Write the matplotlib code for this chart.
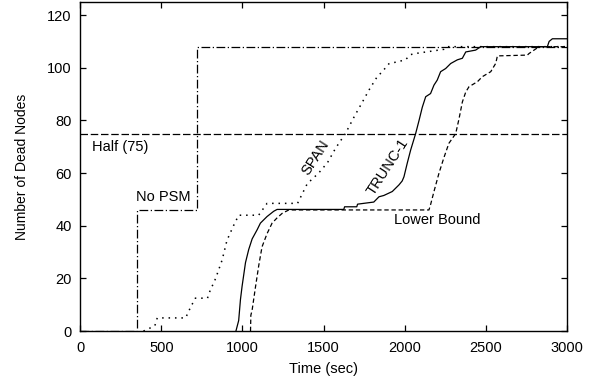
import matplotlib.pyplot as plt

plt.rcParams['font.family'] = ['Liberation Sans', 'DejaVu Sans']

# No PSM (dash-dot)
nopsm_t = [0, 350, 350, 720, 720, 3000]
nopsm_v = [0, 0, 46, 46, 108, 108]

# SPAN (dotted)
span_t = [390, 460, 475, 650, 680, 710, 785, 795, 835, 875, 905, 945, 977, 1100, 1152,
          1340, 1360, 1400, 1470, 1525, 1575, 1635, 1690, 1740, 1780, 1830, 1862, 1903,
          2005, 2037, 2078, 2243, 2260, 3000]
span_v = [0, 2, 5, 5, 9, 12.5, 12.5, 14.5, 20, 27, 34.5, 40, 44, 44, 48.5,
          48.5, 51, 56, 60, 64, 69.5, 75, 81.5, 87, 91.5, 96.5, 98.5, 101.5,
          103, 105, 105.5, 107, 108, 108]

# TRUNC-1 (solid)
trunc_t = [960, 977, 988, 998, 1019, 1039, 1060, 1091, 1111, 1152, 1193, 1214, 1625, 1630,
           1705, 1710, 1810, 1842, 1872, 1924, 1965, 1985, 1996, 2016, 2037, 2068, 2089,
           2109, 2130, 2160, 2181, 2201, 2222, 2253, 2284, 2325, 2356, 2377, 2438, 2469,
           2880, 2891, 2911, 3000]
trunc_v = [0, 4, 12, 17, 26, 31, 35, 38.5, 41, 43.5, 45.5, 46.2, 46.2, 47.2,
           47.2, 48.2, 49, 51, 51.5, 53, 55.5, 57, 58.6, 63.7, 68.7, 75, 80,
           85, 89, 90.2, 93.4, 95.3, 98.5, 99.7, 101.6, 103, 103.6, 106, 106.7, 108,
           108, 110, 111, 111]

# Lower Bound (dashed)
lb_t = [1050, 1052, 1060, 1080, 1101, 1121, 1152, 1183, 1214, 1245, 1286, 2150, 2160, 2181,
        2212, 2243, 2273, 2315, 2335, 2356, 2377, 2397, 2449, 2479, 2531, 2562, 2572, 2757,
        2767, 2798, 2829, 3000]
lb_v = [0, 6, 8, 16.5, 25, 32, 37, 41, 43, 44.7, 46, 46, 48, 53,
        60, 66, 71.3, 75, 80.5, 87, 90.8, 92.8, 94.7, 96.6, 98.5, 101.7, 104.5, 104.8,
        105.4, 106.7, 108, 108]

half = 75

fig = plt.figure(figsize=(6.03, 3.81), dpi=100)
ax = fig.add_axes([0.133, 0.131, 0.807, 0.864])

ax.axhline(half, color='black', lw=0.9, dashes=(6, 2.2))
ax.plot(nopsm_t, nopsm_v, color='black', lw=0.9, dashes=(7, 2, 1, 2))
ax.plot(span_t, span_v, color='black', lw=1.1, dashes=(1, 3.2))
ax.plot(trunc_t, trunc_v, color='black', lw=0.9)
ax.plot(lb_t, lb_v, color='black', lw=0.9, dashes=(3.5, 2.2))

ax.set_xlim(0, 3000)
ax.set_ylim(0, 125)
ax.set_xticks([0, 500, 1000, 1500, 2000, 2500, 3000])
ax.set_yticks([0, 20, 40, 60, 80, 100, 120])
ax.tick_params(direction='in', top=True, right=True, labelsize=10.5, length=4, width=0.9)
ax.tick_params(axis='x', pad=7)
ax.tick_params(axis='y', pad=6)
for s in ax.spines.values():
    s.set_linewidth(1.0)

ax.set_xlabel('Time (sec)', fontsize=10.5, labelpad=5)
ax.set_ylabel('Number of Dead Nodes', fontsize=10, labelpad=13)

ax.text(75, 70, 'Half (75)', fontsize=10.5, ha='left', va='center')
ax.text(680, 51, 'No PSM', fontsize=10.5, ha='right', va='center')
ax.text(1451, 66, 'SPAN', fontsize=10.5, ha='center', va='center', rotation=57)
ax.text(1898, 62.5, 'TRUNC-1', fontsize=10.5, ha='center', va='center', rotation=57)
ax.text(1932, 42.2, 'Lower Bound', fontsize=10.5, ha='left', va='center')

fig.savefig('out.png', dpi=100)
